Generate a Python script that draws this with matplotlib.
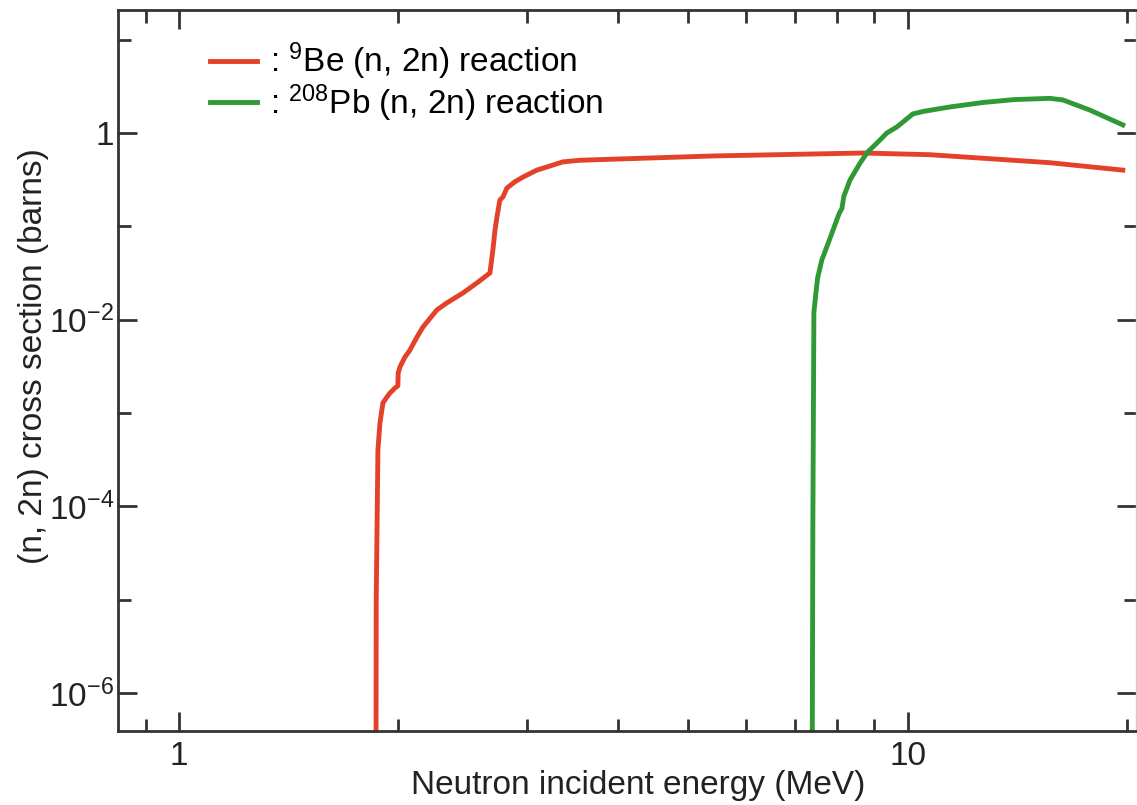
import matplotlib
matplotlib.use('Agg')
from matplotlib import pyplot as plt
from matplotlib.ticker import FixedLocator, FixedFormatter, NullFormatter

plt.rcParams['font.family'] = ['Liberation Sans', 'DejaVu Sans']
plt.rcParams['mathtext.fontset'] = 'custom'
plt.rcParams['mathtext.rm'] = 'Liberation Sans'
plt.rcParams['mathtext.default'] = 'regular'

# 9Be (n, 2n) - energy in MeV, cross section in barns
be_energy = [1.863, 1.865, 1.875, 1.887, 1.905, 1.929, 1.947, 1.979, 1.997, 1.999,
             2.010, 2.042, 2.074, 2.121, 2.161, 2.259, 2.331, 2.453, 2.563, 2.671,
             2.696, 2.714, 2.731, 2.756, 2.783, 2.818, 2.890, 2.965, 3.098, 3.198,
             3.363, 3.548, 5.401, 8.676, 10.72, 15.66, 19.72]
be_xs = [1e-8, 1e-5, 4.0e-4, 7.8e-4, 1.28e-3, 1.48e-3, 1.63e-3, 1.85e-3, 1.95e-3, 2.68e-3,
         3.1e-3, 3.97e-3, 4.7e-3, 6.5e-3, 8.3e-3, 1.27e-2, 1.51e-2, 1.93e-2, 2.47e-2, 3.16e-2,
         5.57e-2, 9.1e-2, 0.126, 0.191, 0.206, 0.257, 0.30, 0.337, 0.40, 0.432,
         0.49, 0.51, 0.567, 0.61, 0.585, 0.48, 0.40]

# 208Pb (n, 2n)
pb_energy = [7.385, 7.408, 7.432, 7.48, 7.52, 7.62, 7.74, 7.87, 8.017, 8.06,
             8.12, 8.17, 8.33, 8.60, 8.81, 9.07, 9.36, 9.66, 10.16, 10.49,
             11.42, 12.67, 14.0, 15.66, 16.32, 17.77, 19.72]
pb_xs = [1e-8, 6.6e-5, 1.2e-2, 1.93e-2, 2.8e-2, 4.35e-2, 6.0e-2, 8.5e-2, 0.126, 0.14,
         0.155, 0.21, 0.313, 0.477, 0.626, 0.78, 1.0, 1.16, 1.60, 1.70,
         1.90, 2.12, 2.28, 2.35, 2.26, 1.76, 1.22]

x_major = [1, 10]
x_minor = [0.9, 2, 3, 4, 5, 6, 7, 8, 9, 20]
y_major = [1e0, 1e-2, 1e-4, 1e-6]
y_major_labels = ['1', '$10^{-2}$', '$10^{-4}$', '$10^{-6}$']
y_minor = [1e1, 1e-1, 1e-3, 1e-5]

red = '#e4412b'
green = '#2f9a35'
dark = '#333333'
fs = 24

fig = plt.figure(figsize=(11.37, 8.05), dpi=100)
ax = fig.add_axes([0.1038, 0.0919, 0.8952, 0.8957])

ax.plot(be_energy, be_xs, color=red, lw=3.5, label=': $^{9}$Be (n, 2n) reaction')
ax.plot(pb_energy, pb_xs, color=green, lw=3.5, label=': $^{208}$Pb (n, 2n) reaction')

ax.set_xscale('log')
ax.set_yscale('log')
ax.set_xlim(0.825, 20.55)
ax.set_ylim(3.9e-7, 20.8)

ax.xaxis.set_major_locator(FixedLocator(x_major))
ax.xaxis.set_major_formatter(FixedFormatter(['1', '10']))
ax.xaxis.set_minor_locator(FixedLocator(x_minor))
ax.xaxis.set_minor_formatter(NullFormatter())
ax.yaxis.set_major_locator(FixedLocator(y_major))
ax.yaxis.set_major_formatter(FixedFormatter(y_major_labels))
ax.yaxis.set_minor_locator(FixedLocator(y_minor))
ax.yaxis.set_minor_formatter(NullFormatter())

ax.tick_params(which='both', direction='in', top=True, right=True, color=dark,
               width=2, labelsize=fs, labelcolor='#222222')
ax.tick_params(which='major', length=13.5)
ax.tick_params(which='minor', length=9)
ax.tick_params(axis='x', pad=7)
ax.tick_params(axis='y', pad=3)

for s in ax.spines.values():
    s.set_linewidth(2)
    s.set_color(dark)
ax.spines['right'].set_color('#cccccc')
ax.spines['right'].set_linewidth(1)

ax.set_xlabel('Neutron incident energy (MeV)', fontsize=fs, color='#222222')
ax.set_ylabel('(n, 2n) cross section (barns)', fontsize=fs, color='#222222')
ax.xaxis.set_label_coords(0.511, -0.054)
ax.yaxis.set_label_coords(-0.068, 0.52)

ax.legend(loc='upper left', bbox_to_anchor=(0.0904, 0.957), frameon=False,
          fontsize=24, handlelength=1.4, handletextpad=0.4, labelspacing=0.0,
          borderpad=0, borderaxespad=0)

plt.savefig('out.png', dpi=100)
plt.close()
